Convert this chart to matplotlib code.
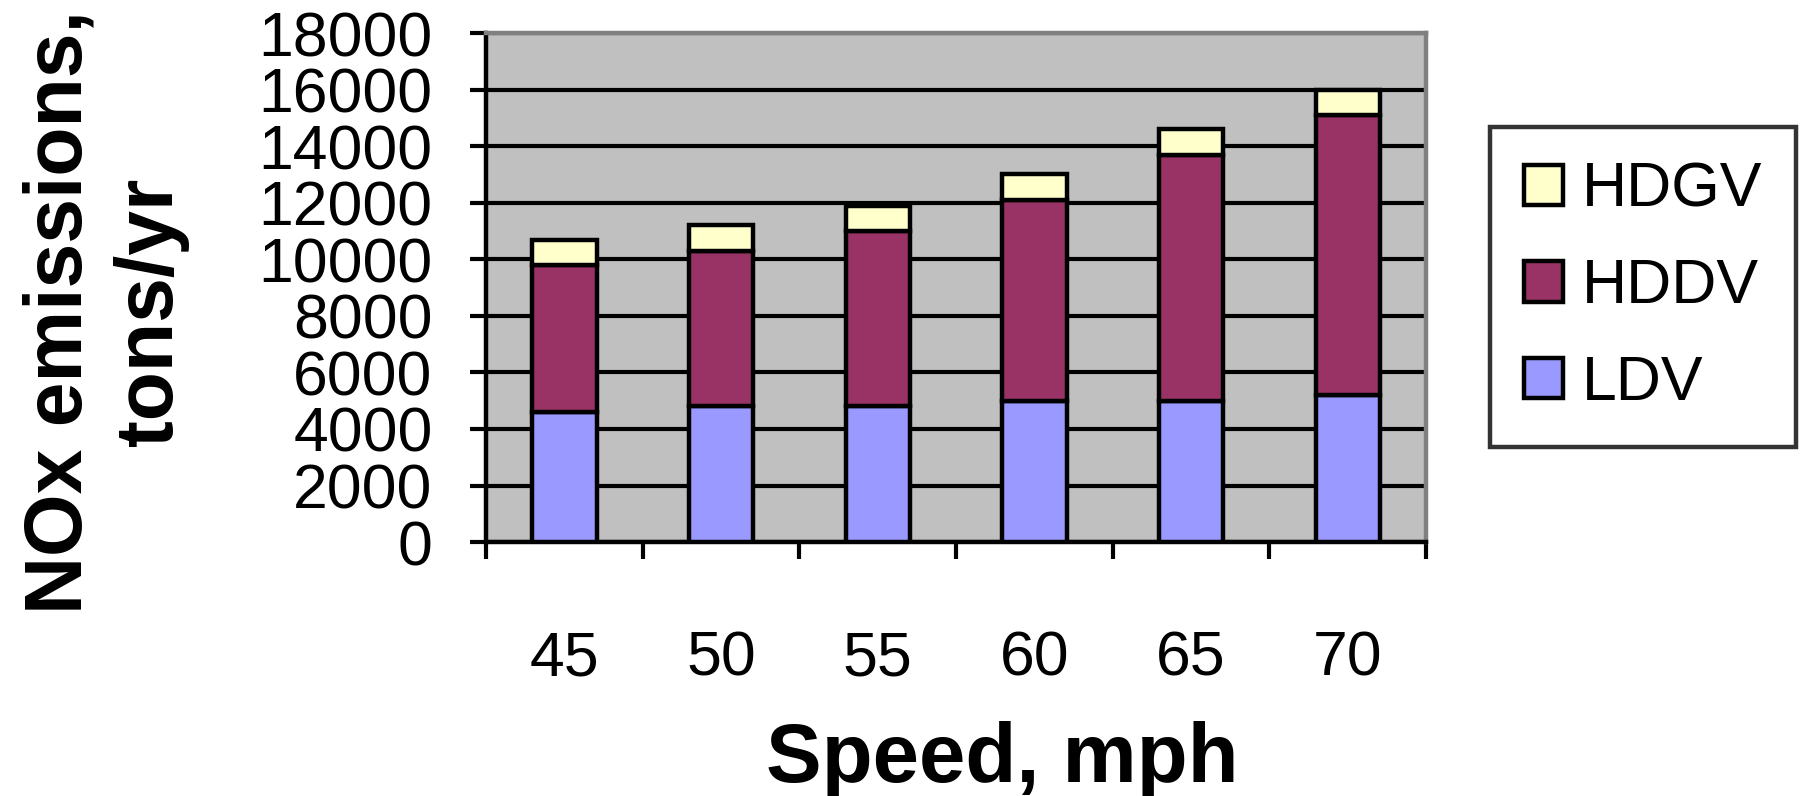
import matplotlib
matplotlib.use("Agg")
import matplotlib.pyplot as plt
import numpy as np

plt.rcParams['font.family'] = ['Liberation Sans', 'DejaVu Sans']

# Data
speeds = ['45', '50', '55', '60', '65', '70']
ldv = [4600, 4800, 4800, 5000, 5000, 5200]
hddv = [5200, 5500, 6200, 7100, 8700, 9900]
hdgv = [900, 900, 900, 900, 900, 900]

series_names = ['LDV', 'HDDV', 'HDGV']
series_colors = ['#9999FF', '#993366', '#FFFFCC']

fig = plt.figure(figsize=(18.03, 7.96), dpi=100)
ax = fig.add_axes([0.2696, 0.319, 0.5214, 0.6394])
ax.set_facecolor('#C0C0C0')

x = np.arange(len(speeds))
bottom = np.zeros(len(speeds))
handles = []
for vals, name, col in zip([ldv, hddv, hdgv], series_names, series_colors):
    b = ax.bar(x, vals, width=0.41, bottom=bottom, color=col,
               edgecolor='black', linewidth=3.2, label=name, zorder=3)
    handles.append(b)
    bottom += np.array(vals)

ax.set_xlim(-0.5, len(speeds) - 0.5)
ax.set_ylim(0, 18000)

# y axis
ax.set_yticks(np.arange(0, 18001, 2000))
ax.yaxis.grid(True, color='black', linewidth=3.0, zorder=1)
ax.set_axisbelow(True)
ax.tick_params(axis='y', direction='out', length=11.5, width=3.0, pad=27,
               labelsize=45)

# x axis: ticks at category boundaries, labels at centres
ax.set_xticks(np.arange(-0.5, len(speeds), 1.0))
ax.set_xticklabels([])
ax.set_xticks(x, minor=True)
ax.set_xticklabels(speeds, minor=True)
ax.tick_params(axis='x', which='major', direction='out', length=12, width=3.0)
ax.tick_params(axis='x', which='minor', length=0, pad=63, labelsize=45)

for side in ['left', 'bottom']:
    ax.spines[side].set_linewidth(3.2)
    ax.spines[side].set_color('black')
for side in ['top', 'right']:
    ax.spines[side].set_linewidth(3.2)
    ax.spines[side].set_color('#808080')

fig.text(0.0588, 0.608, 'NOx emissions,\ntons/yr', rotation=90,
         ha='center', va='center', multialignment='center',
         fontsize=58, fontweight='bold', linespacing=1.25)
fig.text(0.556, 0.0176, 'Speed, mph', ha='center', va='baseline',
         fontsize=60, fontweight='bold')

leg = fig.legend(handles[::-1], series_names[::-1],
                 loc='center', bbox_to_anchor=(0.9112, 0.6395),
                 fontsize=45, frameon=True, fancybox=False,
                 handlelength=0.62, handleheight=0.62, handletextpad=0.3,
                 labelspacing=0.6, borderpad=0.55, borderaxespad=0)
leg.get_frame().set_edgecolor('black')
leg.get_frame().set_linewidth(3.2)
for h in leg.legend_handles:
    h.set_linewidth(3.2)

fig.savefig('out.png', dpi=100)
